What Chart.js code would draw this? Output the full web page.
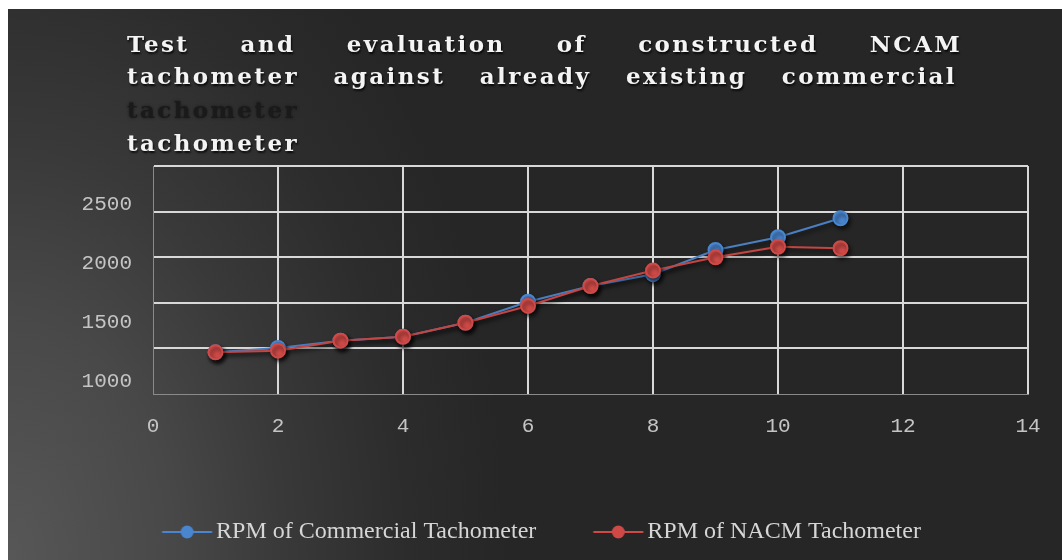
<!DOCTYPE html>
<html><head><meta charset="utf-8">
<script src="https://cdn.jsdelivr.net/npm/chart.js@4.4.0/dist/chart.umd.min.js"></script>
<style>
html,body{margin:0;padding:0;background:#fff;width:1062px;height:560px;overflow:hidden;}
#wrap{position:absolute;left:8px;top:9px;width:1054px;height:551px;
 background: radial-gradient(500px 760px at 0px 551px, #575757 0%, #484848 33%, #393939 55%, #2c2c2c 80%, #262626 100%);}
#chart{position:absolute;left:0;top:0;}
.t{position:absolute;left:119px;font-family:"DejaVu Serif";font-weight:bold;font-size:23px;letter-spacing:2.4px;color:#f4f4f4;text-shadow:1px 2px 2px rgba(0,0,0,.8);white-space:nowrap;line-height:33px;height:33px;overflow:visible}
.j{text-align:justify;text-align-last:justify;white-space:normal}
.ghost{color:#1a1a1a;text-shadow:0 0 3px #1a1a1a;}
</style>
</head><body>
<div id="wrap">
<canvas id="chart" width="1054" height="551"></canvas>
<div id="t1" class="t j" style="top:18px;width:835px"></div>
<div id="t2" class="t j" style="top:50px;width:830px"></div>
<div id="t3" class="t ghost" style="top:84px"></div>
<div id="t4" class="t" style="top:117px"></div>
</div>
<script>
const titleLines = ['Test and evaluation of constructed NCAM', 'tachometer against already existing commercial', 'tachometer', 'tachometer'];
const seriesNames = ['RPM of Commercial Tachometer', 'RPM of NACM Tachometer'];
const xValues = [1, 2, 3, 4, 5, 6, 7, 8, 9, 10, 11];
const commercialRPM = [1243, 1280, 1342, 1375, 1494, 1672, 1805, 1905, 2110, 2218, 2379];
const nacmRPM = [1243, 1257, 1342, 1375, 1494, 1636, 1805, 1936, 2048, 2138, 2125];
const xTickLabels = [0, 2, 4, 6, 8, 10, 12, 14];
const yTickLabels = [1000, 1500, 2000, 2500];
const yAxisMin = 890, yAxisMax = 2822, yGridCount = 5;

['t1','t2','t3','t4'].forEach((id, i) => document.getElementById(id).textContent = titleLines[i]);

const blue = '#4a86cf', blueLine = '#4a7fc2';
const red = '#cf4a47', redLine = '#c44542';

function legendIcon(color){
  const c = document.createElement('canvas'); c.width = 110; c.height = 20;
  const g = c.getContext('2d');
  g.strokeStyle = color; g.lineWidth = 2;
  g.beginPath(); g.moveTo(57.5, 10); g.lineTo(107.5, 10); g.stroke();
  g.fillStyle = color; g.beginPath(); g.arc(82.5, 10, 6.5, 0, Math.PI*2); g.fill();
  return c;
}
const icons = [legendIcon(blue), legendIcon(red)];

const gridStep = (yAxisMax - yAxisMin) / yGridCount;
const yGridValues = Array.from({length: yGridCount + 1}, (_, k) => yAxisMin + k * gridStep);
const labelSet = new Set(yTickLabels);

const shadowPlugin = {
  id: 'shadow',
  beforeDatasetsDraw(c){ const x = c.ctx; x.save(); x.shadowColor = 'rgba(0,0,0,0.6)'; x.shadowBlur = 4; x.shadowOffsetX = 2; x.shadowOffsetY = 3; },
  afterDatasetsDraw(c){ c.ctx.restore(); }
};

new Chart(document.getElementById('chart'), {
  type: 'line',
  data: {
    datasets: [
      { label: seriesNames[0], data: xValues.map((x, i) => ({x, y: commercialRPM[i]})), borderColor: blueLine, backgroundColor: blue,
        pointBackgroundColor: blue, pointBorderColor: blue, pointRadius: 7, borderWidth: 2, order: 2 },
      { label: seriesNames[1], data: xValues.map((x, i) => ({x, y: nacmRPM[i]})), borderColor: redLine, backgroundColor: red,
        pointBackgroundColor: red, pointBorderColor: red, pointRadius: 7, borderWidth: 2, order: 1 }
    ]
  },
  options: {
    responsive: false, animation: false, devicePixelRatio: 1,
    layout: { padding: { top: 157, left: 0, right: 34, bottom: 6 } },
    scales: {
      x: {
        type: 'linear', min: 0, max: 14,
        afterBuildTicks: s => { s.ticks = xTickLabels.map(v => ({value: v})); },
        afterFit: s => { s.height = 116; },
        ticks: { autoSkip: false, maxRotation: 0, padding: 20, color: '#c4c4c4', font: { family: 'Liberation Mono', size: 21 }, callback: v => String(v) },
        grid: { drawTicks: false, lineWidth: 2, color: c => (c.tick && c.tick.value === 0) ? 'rgba(0,0,0,0)' : '#d8d8d8' },
        border: { display: true, color: '#8a8a8a', width: 1 }
      },
      y: {
        type: 'linear', min: yAxisMin, max: yAxisMax,
        afterBuildTicks: s => {
          const vals = yGridValues.concat(yTickLabels).sort((a, b) => a - b);
          s.ticks = vals.map(v => ({value: v}));
        },
        afterFit: s => { s.width = 145; },
        ticks: { autoSkip: false, padding: 21, color: '#c4c4c4', font: { family: 'Liberation Mono', size: 21 },
          callback: v => labelSet.has(v) ? String(v) : '' },
        grid: { drawTicks: false, lineWidth: 2,
          color: c => (c.tick && !labelSet.has(c.tick.value) && c.tick.value > yAxisMin + 1) ? '#d8d8d8' : 'rgba(0,0,0,0)' },
        border: { display: true, color: '#8a8a8a', width: 1 }
      }
    },
    plugins: {
      title: { display: false },
      tooltip: { enabled: false },
      legend: {
        display: true, position: 'bottom', align: 'center',
        labels: {
          usePointStyle: true, pointStyleWidth: 89, padding: 10, color: '#d6d6d6',
          font: { family: 'Liberation Serif', size: 24 },
          sort: (a, b) => a.datasetIndex - b.datasetIndex,
          generateLabels: chart => {
            const items = Chart.defaults.plugins.legend.labels.generateLabels(chart);
            items.forEach(it => { it.pointStyle = icons[it.datasetIndex]; it.fontColor = '#d6d6d6'; });
            return items;
          }
        }
      }
    }
  },
  plugins: [shadowPlugin]
});
</script>
</body></html>
